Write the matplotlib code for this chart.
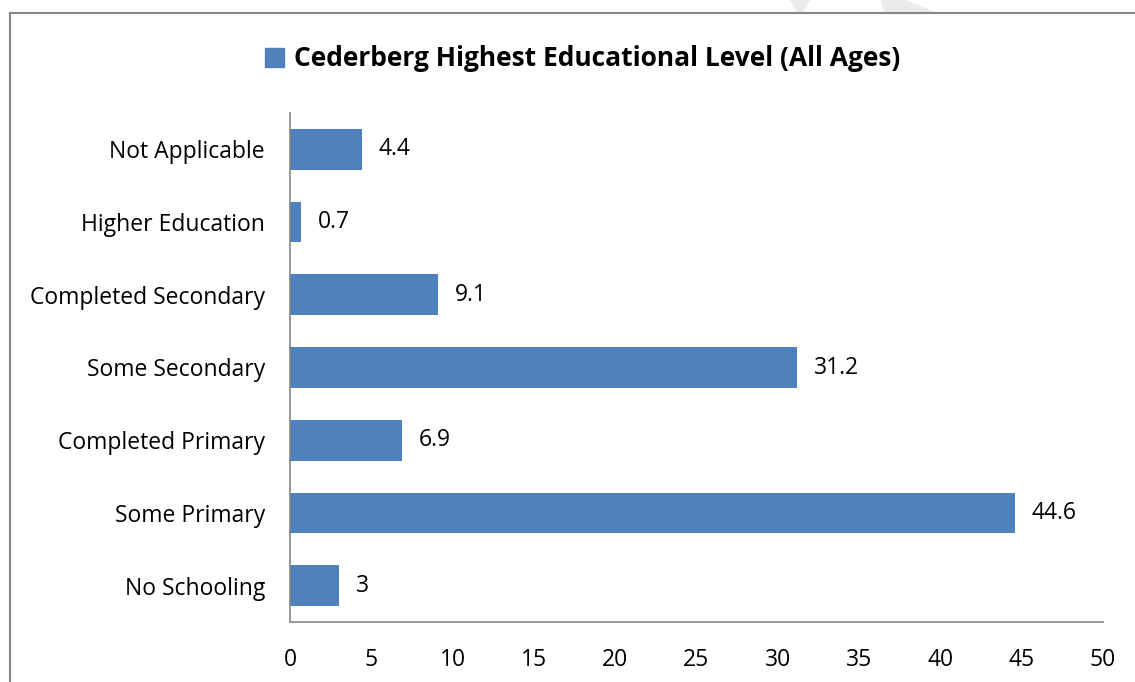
import matplotlib
matplotlib.use("Agg")
import matplotlib.pyplot as plt
from matplotlib.patches import Rectangle, Polygon
from matplotlib.lines import Line2D

categories = ["No Schooling", "Some Primary", "Completed Primary", "Some Secondary",
              "Completed Secondary", "Higher Education", "Not Applicable"]
values = [3, 44.6, 6.9, 31.2, 9.1, 0.7, 4.4]
value_labels = ["3", "44.6", "6.9", "31.2", "9.1", "0.7", "4.4"]
xticks = [0, 5, 10, 15, 20, 25, 30, 35, 40, 45, 50]
series_name = "Cederberg Highest Educational Level (All Ages)"

plt.rcParams['font.family'] = ['Open Sans', 'DejaVu Sans']

W, H = 1135, 682
fig = plt.figure(figsize=(W / 100, H / 100), dpi=100)
bar_color = "#4F81BD"
spine_color = "#868686"
fs = 16.5

# axes: x 290..1103, y 113..622 (pixels from top)
ax = fig.add_axes([290 / W, 1 - 622 / H, (1103 - 290) / W, (622 - 113) / H])
y = list(range(len(categories)))
bars = ax.barh(y, values, height=0.56, color=bar_color, label=series_name)
ax.set_xlim(0, 50)
ax.set_ylim(-0.5, len(categories) - 0.5)
ax.set_yticks(y)
ax.set_yticklabels(categories, fontsize=fs, color="#000000")
ax.set_xticks(xticks)
ax.set_xticklabels([str(t) for t in xticks], fontsize=fs)
ax.tick_params(axis='both', length=0)
ax.tick_params(axis='y', pad=18)
ax.tick_params(axis='x', pad=19)
for s in ["top", "right"]:
    ax.spines[s].set_visible(False)
for s in ["left", "bottom"]:
    ax.spines[s].set_color(spine_color)
    ax.spines[s].set_linewidth(1.2)

for b, lab in zip(bars, value_labels):
    ax.annotate(lab, (b.get_width(), b.get_y() + b.get_height() / 2),
                xytext=(12, 0), textcoords="offset points", va="center", ha="left",
                fontsize=fs)

# legend acting as title
leg = fig.legend(handles=[Rectangle((0, 0), 1, 1, color=bar_color)], labels=[series_name],
                 loc="center", bbox_to_anchor=(583 / W, 1 - 59 / H), frameon=False,
                 prop={'weight': 'bold', 'size': 19}, handlelength=0.7, handleheight=0.7,
                 handletextpad=0.4)

# outer border (left and top)
fig.add_artist(Line2D([10 / W, 10 / W], [0, 1 - 13 / H], transform=fig.transFigure,
                      color=spine_color, lw=1.5))
fig.add_artist(Line2D([10 / W, 1], [1 - 13 / H, 1 - 13 / H], transform=fig.transFigure,
                      color=spine_color, lw=1.5))

# faint watermark shapes at the top
for pts in ([(790, 0), (810, 0), (803, 12), (797, 12)],
            [(880, 0), (905, 0), (935, 12), (885, 12)]):
    fig.add_artist(Polygon([(px / W, 1 - py / H) for px, py in pts], closed=True,
                           transform=fig.transFigure, color="#EBEBEB", lw=0, zorder=0))

fig.savefig("out.png", dpi=100)
